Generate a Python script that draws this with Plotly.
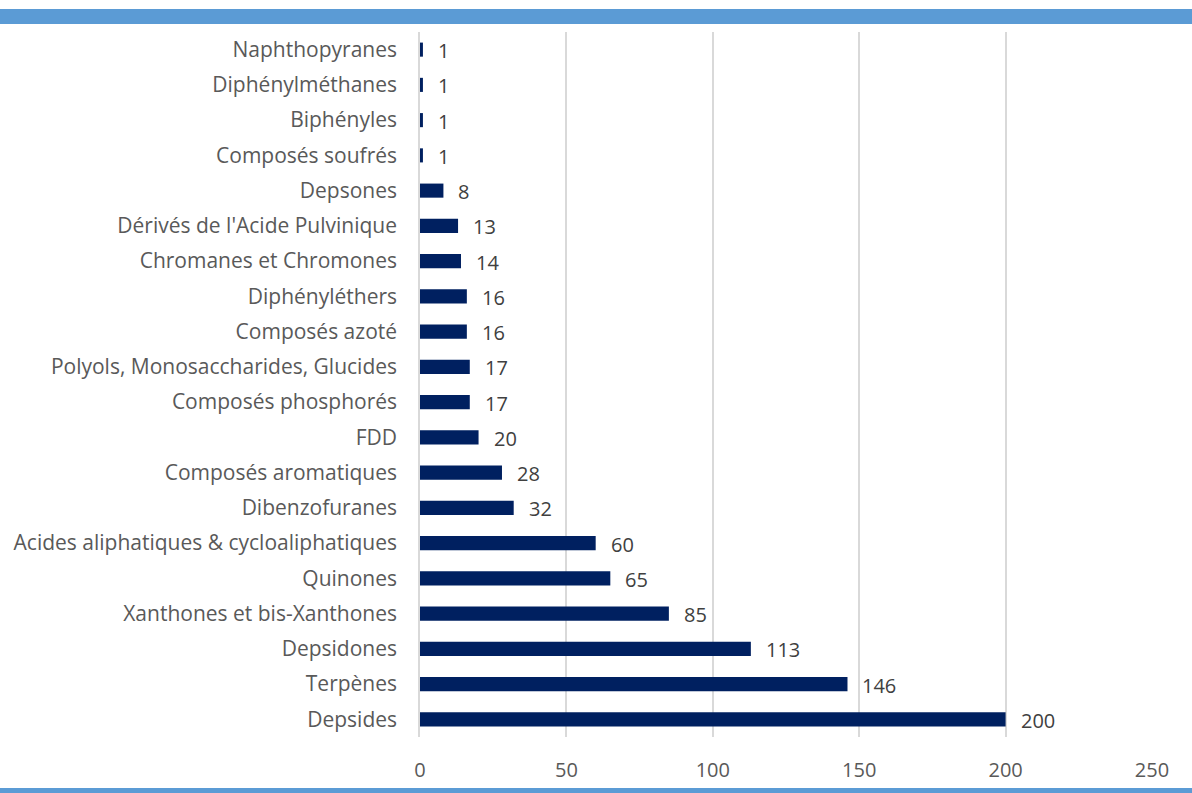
import plotly.graph_objects as go

# Classes de composés et nombre de composés recensés
categories = [
    "Depsides", "Terpènes", "Depsidones", "Xanthones et bis-Xanthones", "Quinones",
    "Acides aliphatiques & cycloaliphatiques", "Dibenzofuranes", "Composés aromatiques",
    "FDD", "Composés phosphorés", "Polyols, Monosaccharides, Glucides", "Composés azoté",
    "Diphényléthers", "Chromanes et Chromones", "Dérivés de l'Acide Pulvinique",
    "Depsones", "Composés soufrés", "Biphényles", "Diphénylméthanes", "Naphthopyranes",
]
counts = [200, 146, 113, 85, 65, 60, 32, 28, 20, 17, 17, 16, 16, 14, 13, 8, 1, 1, 1, 1]
x_ticks = [0, 50, 100, 150, 200, 250]

FONT = "Open Sans"
BAR = "#002060"
BAND = "#5B9BD5"

W, H = 1192, 793
M_L, M_R, M_T, M_B = 420, 40, 32, 56
PLOT_H = H - M_T - M_B


def py(pixel_y):
    """Convertit une ordonnée en pixels (depuis le haut) en coordonnée 'paper'."""
    return (H - M_B - pixel_y) / PLOT_H


fig = go.Figure(go.Bar(
    x=counts, y=categories, orientation="h",
    marker=dict(color=BAR, line=dict(width=0)),
    width=0.4,
    hoverinfo="x+y",
))

# Étiquettes de valeur à droite des barres
for c, v in zip(categories, counts):
    fig.add_annotation(
        x=v, y=c, text=str(v), showarrow=False,
        xanchor="left", yanchor="middle", xshift=13, yshift=-1,
        font=dict(family=FONT, size=20, color="#404040"),
    )

fig.update_layout(
    width=W, height=H,
    margin=dict(l=M_L, r=M_R, t=M_T, b=M_B, autoexpand=False),
    paper_bgcolor="white", plot_bgcolor="white",
    showlegend=False,
    xaxis=dict(
        range=[0, 250], tickvals=x_ticks, showgrid=True, automargin=False,
        gridcolor="#D9D9D9", gridwidth=1.5, zeroline=False,
        showline=False, ticks="outside", ticklen=15, tickcolor="rgba(0,0,0,0)",
        tickfont=dict(family=FONT, size=20, color="#595959"),
    ),
    yaxis=dict(
        categoryorder="array", categoryarray=categories, automargin=False,
        range=[-0.5, len(categories) - 0.5],
        showline=True, linecolor="#D9D9D9", linewidth=1.5,
        ticks="outside", ticklen=17, tickcolor="rgba(0,0,0,0)",
        tickfont=dict(family=FONT, size=21, color="#595959"),
        showgrid=False,
    ),
    shapes=[
        dict(type="rect", xref="paper", yref="paper", x0=-1, x1=2,
             y0=py(24), y1=py(9), fillcolor=BAND, line=dict(width=0)),
        dict(type="rect", xref="paper", yref="paper", x0=-1, x1=2,
             y0=py(800), y1=py(788), fillcolor=BAND, line=dict(width=0)),
    ],
)

fig.write_html("out.html")
